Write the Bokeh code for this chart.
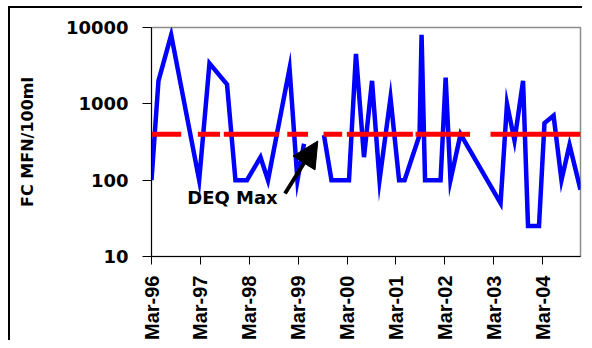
import numpy as np
import pandas as pd
from math import pi
from bokeh.plotting import figure
from bokeh.models import (FixedTicker, DatetimeTickFormatter, PrintfTickFormatter,
                          Arrow, NormalHead, Label, ColumnDataSource, Range1d)
from bokeh.embed import file_html
from bokeh.resources import INLINE

# ---- data ----
sample_dates = [
    "1996-03-01", "1996-04-22", "1996-07-26", "1997-02-20", "1997-05-08",
    "1997-09-16", "1997-11-18", "1998-02-12", "1998-05-24", "1998-07-19",
    "1998-12-27", "1999-02-24", "1999-04-14", "1999-07-01", "1999-09-10",
    "1999-11-05", "2000-03-15", "2000-05-06", "2000-07-05", "2000-09-03",
    "2000-10-29", "2001-01-19", "2001-03-24", "2001-05-04", "2001-08-24",
    "2001-09-08", "2001-10-04", "2002-01-28", "2002-03-07", "2002-04-12",
    "2002-06-26", "2003-04-21", "2003-06-08", "2003-08-03", "2003-10-06",
    "2003-11-12", "2004-02-02", "2004-03-14", "2004-05-21", "2004-07-19",
    "2004-09-17", "2004-12-08",
]
fc_values = [
    100, 2000, 8000, 100, 3400,
    1800, 100, 100, 200, 100,
    2900, 100, 300, np.nan, 390,
    100, 100, 4500, 200, 2000,
    100, 1200, 100, 100, 390,
    8000, 100, 100, 2200, 100,
    400, 50, 1000, 330, 2000,
    25, 25, 560, 700, 100,
    290, 75,
]
deq_max = 400
deq_dash_start = ["1996-03-01", "1997-02-10", "1997-08-23", "1998-12-10",
                  "1999-09-07", "2000-02-28", "2001-07-25", "2003-02-05"]
deq_dash_end = ["1996-10-09", "1997-07-26", "1998-10-08", "1999-05-14",
                "2000-01-24", "2001-07-05", "2002-09-05", "2004-12-08"]
x_tick_dates = ["1996-03-01", "1997-03-01", "1998-03-01", "1999-03-01",
                "2000-03-01", "2001-03-01", "2002-03-01", "2003-03-01",
                "2004-03-01"]
x_tick_labels = ["Mar-96", "Mar-97", "Mar-98", "Mar-99", "Mar-00",
                 "Mar-01", "Mar-02", "Mar-03", "Mar-04"]
y_tick_values = [10, 100, 1000, 10000]
y_tick_labels = ["10", "100", "1000", "10000"]
x_start, x_end = "1996-03-01", "2004-12-08"
arrow_tail = ("1998-11-23", 67)
arrow_tip = ("1999-07-26", 326)
label_pos = ("1996-11-23", 59)


def ms(d):
    return pd.Timestamp(d).value / 1e6


src = ColumnDataSource(dict(x=[ms(d) for d in sample_dates], y=fc_values))
deq_src = ColumnDataSource(dict(
    x0=[ms(d) for d in deq_dash_start],
    x1=[ms(d) for d in deq_dash_end],
    y=[deq_max] * len(deq_dash_start),
))

p = figure(width=574, height=334, x_axis_type="datetime", y_axis_type="log",
           x_range=Range1d(ms(x_start), ms(x_end)), y_range=Range1d(10, 10000),
           output_backend="svg", toolbar_location=None,
           min_border_left=141, min_border_right=4, min_border_top=19,
           min_border_bottom=84)
p.margin = (6, 0, 0, 8)
p.styles = {"border-left": "2px solid black", "border-top": "2px solid black"}
p.background_fill_color = "white"
p.border_fill_color = "white"
p.outline_line_color = "#8c8c8c"
p.outline_line_width = 1.5
p.xgrid.visible = False
p.ygrid.visible = False

p.line("x", "y", source=src, line_color="#0000FF", line_width=4.5,
       line_join="miter")
p.segment(x0="x0", x1="x1", y0="y", y1="y", source=deq_src,
          line_color="#FF0000", line_width=5, line_cap="butt")

p.add_layout(Arrow(end=NormalHead(size=26, fill_color="black", line_color="black"),
                   x_start=ms(arrow_tail[0]), y_start=arrow_tail[1],
                   x_end=ms(arrow_tip[0]), y_end=arrow_tip[1],
                   line_color="black", line_width=4))
p.add_layout(Label(x=ms(label_pos[0]), y=label_pos[1], text="DEQ Max",
                   text_font="DejaVu Sans", text_font_style="bold",
                   text_font_size="18px", text_color="black",
                   text_baseline="alphabetic", text_align="left"))

xa = p.xaxis[0]
xa.ticker = FixedTicker(ticks=[ms(d) for d in x_tick_dates], minor_ticks=[])
xa.formatter = DatetimeTickFormatter(years="%b-%y", months="%b-%y", days="%b-%y",
                                     hours="%b-%y", minutes="%b-%y", seconds="%b-%y",
                                     milliseconds="%b-%y", microseconds="%b-%y",
                                     context=None)
xa.major_label_overrides = {ms(d): lab for d, lab in zip(x_tick_dates, x_tick_labels)}
xa.major_label_orientation = pi / 2
xa.major_label_text_font = "Liberation Sans"
xa.major_label_text_font_style = "bold"
xa.major_label_text_font_size = "20px"
xa.major_label_text_color = "black"
xa.major_tick_out = 8
xa.major_tick_in = 0
xa.minor_tick_line_color = None
xa.major_label_standoff = 11
xa.axis_line_color = "black"

ya = p.yaxis[0]
ya.ticker = FixedTicker(ticks=y_tick_values, minor_ticks=[])
ya.formatter = PrintfTickFormatter(format="%d")
ya.major_label_overrides = {v: lab for v, lab in zip(y_tick_values, y_tick_labels)}
ya.major_label_text_font = "DejaVu Sans"
ya.major_label_text_font_style = "bold"
ya.major_label_text_font_size = "18px"
ya.major_label_text_color = "black"
ya.major_tick_out = 9
ya.major_tick_in = 0
ya.minor_tick_line_color = None
ya.major_label_standoff = 14
ya.axis_line_color = "black"
ya.axis_label = "FC MFN/100ml"
ya.axis_label_text_font = "DejaVu Sans"
ya.axis_label_text_font_style = "bold"
ya.axis_label_text_font_size = "16px"
ya.axis_label_text_color = "black"
ya.axis_label_standoff = 26

open("out.html", "w").write(file_html(p, INLINE))
